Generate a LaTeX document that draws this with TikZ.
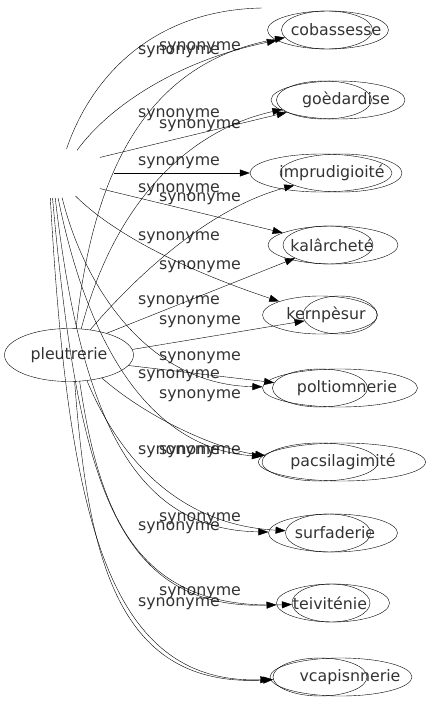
\documentclass[tikz,border=0pt]{standalone}
\usepackage{fontspec}
\setmainfont{DejaVu Sans}
\usetikzlibrary{shapes.geometric}
\usetikzlibrary{arrows.meta}

\tikzset{
  oval/.style = {draw, ellipse, minimum height=38pt, inner sep=0pt},
  word/.style = {font=\fontsize{15.8}{18}\selectfont, inner sep=0pt, text=black!80},
  syn/.style  = {-{Triangle[length=10pt,width=7pt]}},
}

\begin{document}
\begin{tikzpicture}[x=1pt, y=1pt]
    \useasboundingbox (0,0) rectangle (429,-707);

    % centre
    \node[oval, word, minimum width=129pt, minimum height=53pt] (pleutrerie) at (69,-355) {pleutrerie};
    \node[ellipse, minimum width=129pt, minimum height=50pt] (hidden) at (49,-173) {};
    \coordinate (offtop) at (262,-8);

    % right column: two ellipses on each row
    \node[oval, minimum width=121pt] (r1a)  at (328,-30)  {};
    \node[oval, minimum width=91pt]  (r1b)  at (327,-30)  {};
    \node[oval, minimum width=134pt] (r2a)  at (338,-100) {};
    \node[oval, minimum width=95pt]  (r2b)  at (324,-100) {};
    \node[oval, minimum width=142pt] (r3a)  at (321,-173) {};
    \node[oval, minimum width=122pt] (r3b)  at (341,-173) {};
    \node[oval, minimum width=130pt] (r4a)  at (333,-245) {};
    \node[oval, minimum width=90pt]  (r4b)  at (328,-245) {};
    \node[oval, minimum width=115pt] (r5a)  at (320,-315) {};
    \node[oval, minimum width=74pt]  (r5b)  at (340,-315) {};
    \node[oval, minimum width=155pt] (r6a)  at (340,-388) {};
    \node[oval, minimum width=95pt]  (r6b)  at (320,-388) {};
    \node[oval, minimum width=167pt] (r7a)  at (342,-462) {};
    \node[oval, minimum width=116pt] (r7b)  at (320,-462) {};
    \node[oval, minimum width=129pt] (r8a)  at (333,-533) {};
    \node[oval, minimum width=85pt]  (r8b)  at (328,-533) {};
    \node[oval, minimum width=113pt] (r9a)  at (333,-603) {};
    \node[oval, minimum width=78pt]  (r9b)  at (331,-603) {};
    \node[oval, minimum width=142pt] (r10a) at (341,-677) {};
    \node[oval, minimum width=94pt]  (r10b) at (320,-677) {};

    % the printed words
    \node[word] (t1)  at (336,-30)  {cobassesse};
    \node[word] (t2)  at (346,-100) {goèdardise};
    \node[word] (t3)  at (332,-173) {imprudigioité};
    \node[word] (t4)  at (332,-245) {kalârcheté};
    \node[word] (t5)  at (326,-315) {kernpèsur};
    \node[word] (t6)  at (347,-388) {poltiomnerie};
    \node[word] (t7)  at (343,-462) {pacsilagimité};
    \node[word] (t8)  at (335,-533) {surfaderie};
    \node[word] (t9)  at (330,-603) {teiviténie};
    \node[word] (t10) at (350,-677) {vcapisnnerie};

    % labels
    \node[word] (l1)  at (200,-48)  {synonyme};
    \node[word] (l2)  at (179,-52)  {synonyme};
    \node[word] (l3)  at (179,-115) {synonyme};
    \node[word] (l4)  at (200,-126) {synonyme};
    \node[word] (l5)  at (179,-163) {synonyme};
    \node[word] (l6)  at (179,-190) {synonyme};
    \node[word] (l7)  at (200,-199) {synonyme};
    \node[word] (l8)  at (179,-238) {synonyme};
    \node[word] (l9)  at (200,-267) {synonyme};
    \node[word] (l10) at (179,-302) {synonyme};
    \node[word] (l11) at (200,-322) {synonyme};
    \node[word] (l12) at (200,-358) {synonyme};
    \node[word] (l13) at (179,-376) {synonyme};
    \node[word] (l14) at (200,-396) {synonyme};
    \node[word] (l15) at (179,-452) {synonyme};
    \node[word] (l16) at (200,-452) {synonyme};
    \node[word] (l17) at (200,-519) {synonyme};
    \node[word] (l18) at (179,-528) {synonyme};
    \node[word] (l19) at (200,-593) {synonyme};
    \node[word] (l20) at (179,-604) {synonyme};

    % edges from the hidden centre
    \draw (hidden.54) .. controls (90,-80) and (150,-10) .. (offtop);
    \draw[syn] (hidden.39) .. controls (110,-105) and (180,-60) .. (r1a);
    \draw[syn] (hidden.17) -- (r2a);
    \draw[syn] (hidden.0) -- (r3a.west);
    \draw[syn] (hidden.-17) -- (r4a);
    \draw[syn] (hidden.-41) .. controls (120,-240) and (200,-275) .. (r5a);
    \draw[syn] (hidden.-62) .. controls (85,-290) and (150,-385) .. (r6a);
    \draw[syn] (hidden.-70) .. controls (95,-380) and (170,-450) .. (r7a);
    \draw[syn] (hidden.-76) .. controls (82,-430) and (140,-530) .. (r8a);
    \draw[syn] (hidden.-82) .. controls (78,-480) and (115,-610) .. (r9a);
    \draw[syn] (hidden.-87) .. controls (68,-510) and (105,-685) .. (r10a);

    % edges from pleutrerie
    \draw[syn] (pleutrerie.75) .. controls (95,-150) and (160,-60) .. (r1b);
    \draw[syn] (pleutrerie.65) .. controls (115,-200) and (190,-130) .. (r2b);
    \draw[syn] (pleutrerie.50) .. controls (150,-260) and (220,-205) .. (r3b);
    \draw[syn] (pleutrerie.30) -- (r4b);
    \draw[syn] (pleutrerie.5) -- (r5b);
    \draw[syn] (pleutrerie.-10) -- (r6b);
    \draw[syn] (pleutrerie.-35) .. controls (150,-420) and (220,-450) .. (r7b);
    \draw[syn] (pleutrerie.-55) .. controls (120,-460) and (180,-525) .. (r8b);
    \draw[syn] (pleutrerie.-68) .. controls (100,-520) and (140,-610) .. (r9b);
    \draw[syn] (pleutrerie.-78) .. controls (88,-560) and (118,-688) .. (r10b);
\end{tikzpicture}
\end{document}
